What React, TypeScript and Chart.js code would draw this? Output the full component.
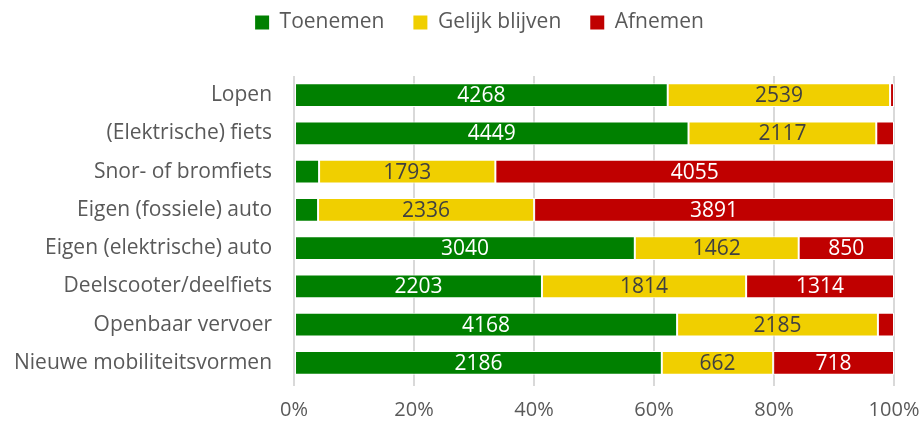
import React, { useEffect, useRef } from "react";
import { Chart, registerables } from "chart.js";

Chart.register(...registerables);

const categories = [
  "Lopen",
  "(Elektrische) fiets",
  "Snor- of bromfiets",
  "Eigen (fossiele) auto",
  "Eigen (elektrische) auto",
  "Deelscooter/deelfiets",
  "Openbaar vervoer",
  "Nieuwe mobiliteitsvormen",
];
const toenemen = [4268, 4449, 255, 260, 3040, 2203, 4168, 2186];
const gelijk = [2539, 2117, 1793, 2336, 1462, 1814, 2185, 662];
const afnemen = [45, 200, 4055, 3891, 850, 1314, 175, 718];
const xTicks = [0, 20, 40, 60, 80, 100];

const FONT = "'Open Sans', sans-serif";
const TEXT = "#595959";
const FS = 21;

export default function App() {
  const ref = useRef<HTMLCanvasElement>(null);
  useEffect(() => {
    document.body.style.margin = "0";
    const totals = categories.map((_, i) => toenemen[i] + gelijk[i] + afnemen[i]);
    const pct = (arr: number[]) => arr.map((v, i) => (v / totals[i]) * 100);
    const raw = [toenemen, gelijk, afnemen];
    const labelColors = ["#ffffff", "#404040", "#ffffff"];

    const labelPlugin = {
      id: "segLabels",
      afterDatasetsDraw(chart: any) {
        const ctx = chart.ctx;
        ctx.save();
        ctx.font = `${FS}px ${FONT}`;
        ctx.textAlign = "center";
        ctx.textBaseline = "middle";
        chart.data.datasets.forEach((_: any, di: number) => {
          const meta = chart.getDatasetMeta(di);
          meta.data.forEach((bar: any, i: number) => {
            const w = Math.abs(bar.x - bar.base);
            if (w < 35) return;
            ctx.fillStyle = labelColors[di];
            ctx.fillText(String(raw[di][i]), (bar.x + bar.base) / 2, bar.y + 1);
          });
        });
        ctx.restore();
      },
    };
    const legendSpace = {
      id: "legendSpace",
      beforeInit(chart: any) {
        const origFit = chart.legend.fit;
        chart.legend.fit = function () {
          origFit.bind(chart.legend)();
          this.height += 33;
          if (this.lineWidths && this.lineWidths.length) this.lineWidths[0] -= 36;
        };
      },
    };

    const chart = new Chart(ref.current!, {
      type: "bar",
      data: {
        labels: categories,
        datasets: [
          { label: "Toenemen", data: pct(toenemen), backgroundColor: "#008000" },
          { label: "Gelijk blijven", data: pct(gelijk), backgroundColor: "#F0CF00" },
          { label: "Afnemen", data: pct(afnemen), backgroundColor: "#C00000" },
        ].map((d) => ({
          ...d,
          borderColor: "#ffffff",
          borderWidth: 1,
          borderSkipped: false,
          categoryPercentage: 1,
          barPercentage: 0.62,
        })),
      },
      options: {
        indexAxis: "y",
        animation: false,
        responsive: false,
        maintainAspectRatio: false,
        layout: { padding: { left: 0, right: 0, top: -17, bottom: -13 } },
        plugins: {
          legend: {
            position: "top",
            labels: {
              font: { family: FONT, size: FS },
              color: TEXT,
              boxWidth: 14,
              boxHeight: 14,
              padding: 29,
              generateLabels: (chart: any) =>
                chart.data.datasets.map((ds: any, i: number) => ({
                  text: ds.label,
                  fillStyle: ds.backgroundColor,
                  strokeStyle: ds.backgroundColor,
                  lineWidth: 0,
                  datasetIndex: i,
                  fontColor: TEXT,
                })),
            },
          },
          tooltip: { enabled: false },
        },
        scales: {
          x: {
            stacked: true,
            min: 0,
            max: 100,
            afterBuildTicks: (axis: any) => {
              axis.ticks = xTicks.map((v) => ({ value: v }));
            },
            afterFit: (axis: any) => {
              axis.paddingRight = 29;
            },
            ticks: {
              callback: (v: any) => v + "%",
              font: { family: FONT, size: FS - 1 },
              color: TEXT,
              padding: 12,
            },
            grid: { color: "#D9D9D9", lineWidth: 2, drawTicks: true, tickLength: 4 },
            border: { display: false },
          },
          y: {
            stacked: true,
            ticks: {
              font: { family: FONT, size: FS },
              color: TEXT,
              padding: 14,
            },
            grid: { display: false },
            border: { display: false },
          },
        },
      },
      plugins: [labelPlugin, legendSpace],
    } as any);
    return () => chart.destroy();
  }, []);
  return (
    <div style={{ width: 923, height: 421 }}>
      <canvas ref={ref} width={923} height={421} />
    </div>
  );
}
